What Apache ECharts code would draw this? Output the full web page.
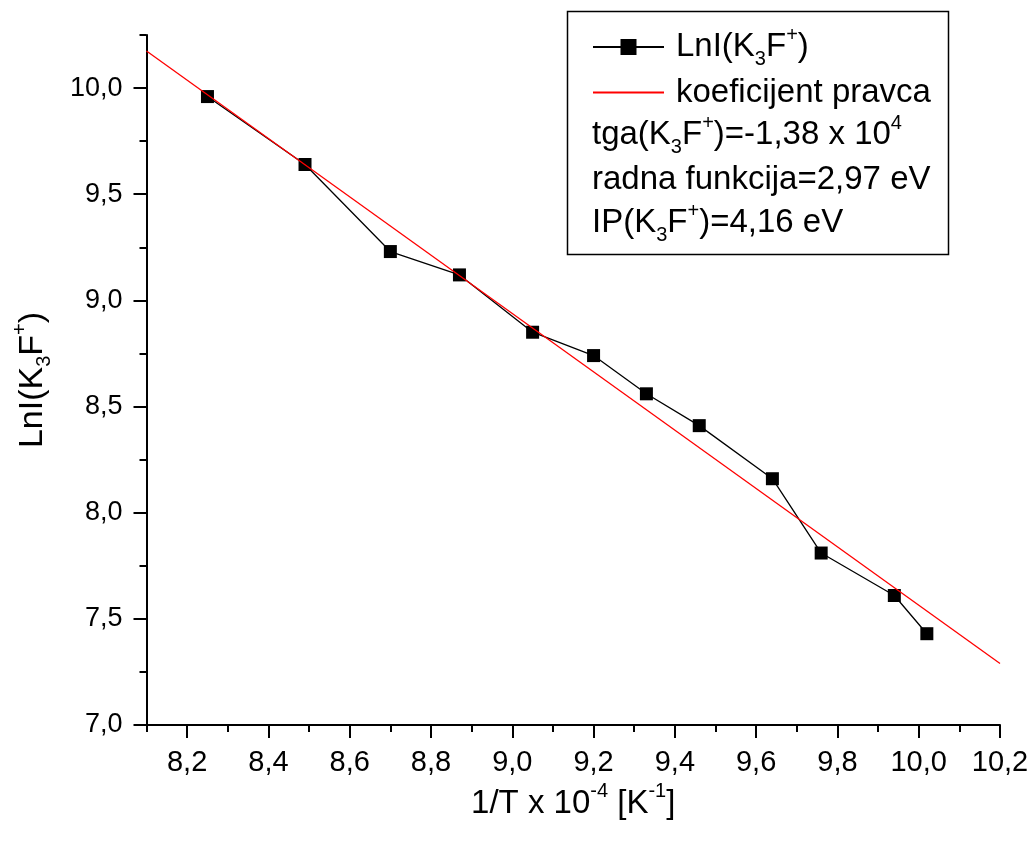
<!DOCTYPE html>
<html>
<head>
<meta charset="utf-8">
<script src="https://cdn.jsdelivr.net/npm/echarts@6/dist/echarts.min.js"></script>
<style>html,body{margin:0;padding:0;background:#fff}#c{width:1036px;height:843px}</style>
</head>
<body>
<div id="c"></div>
<script>
// ---- data ----
const invT = [8.25, 8.49, 8.70, 8.87, 9.05, 9.20, 9.33, 9.46, 9.64, 9.76, 9.94, 10.02];
const lnI = [9.96, 9.64, 9.23, 9.12, 8.85, 8.74, 8.56, 8.41, 8.16, 7.81, 7.61, 7.43];
const fitX = [8.1, 10.2];
const fitY = [10.175, 7.29];
const xMajorTicks = [8.2, 8.4, 8.6, 8.8, 9.0, 9.2, 9.4, 9.6, 9.8, 10.0, 10.2];
const xMinorTicks = [8.1, 8.3, 8.5, 8.7, 8.9, 9.1, 9.3, 9.5, 9.7, 9.9, 10.1];
const yMajorTicks = [7.0, 7.5, 8.0, 8.5, 9.0, 9.5, 10.0];
const yMinorTicks = [7.25, 7.75, 8.25, 8.75, 9.25, 9.75, 10.25];
const seriesNames = ['LnI(K3F+)', 'koeficijent pravca'];
const infoLines = ['tga(K3F+)=-1,38 x 10^4', 'radna funkcija=2,97 eV', 'IP(K3F+)=4,16 eV'];

const FONT = '"Liberation Sans", Arial, sans-serif';
function makeRich(size) {
  const small = Math.round(size * 0.6);
  const shift = Math.round(size * 0.36);
  return {
    b: {fontSize: size, fontFamily: FONT, color: '#000', lineHeight: size + 4},
    sub: {fontSize: small, fontFamily: FONT, color: '#000', lineHeight: small, padding: [2 * shift, 0, 0, 0]},
    sup: {fontSize: small, fontFamily: FONT, color: '#000', lineHeight: small, padding: [0, 0, 2 * shift, 0]}
  };
}
const richLegend = makeRich(33);
const richXName = makeRich(33);
const richYName = makeRich(34);
function fmtComma(v) { return v.toFixed(1).replace('.', ','); }
function toRich(s) {
  return '{b|' + s.replace('K3', 'K}{sub|3}{b|').replace('F+', 'F}{sup|+}{b|').replace('^4', '}{sup|4}{b|') + '}';
}
const pairs = invT.map((x, i) => [x, lnI[i]]);
const fitPairs = fitX.map((x, i) => [x, fitY[i]]);

const chart = echarts.init(document.getElementById('c'), null, {renderer: 'canvas'});
const axisLine = {show: true, lineStyle: {color: '#000', width: 2}};
chart.setOption({
  animation: false,
  backgroundColor: '#fff',
  grid: {left: 146.5, right: 36, top: 35, bottom: 118},
  xAxis: [{
    type: 'value', min: 8.1, max: 10.2, position: 'bottom',
    axisLine: axisLine,
    splitLine: {show: false},
    axisTick: {show: true, inside: false, length: 13, lineStyle: {color: '#000', width: 2}, customValues: xMajorTicks},
    axisLabel: {show: true, margin: 23, fontSize: 29, fontFamily: FONT, color: '#000', customValues: xMajorTicks, formatter: fmtComma},
    name: '{b|1/T x 10}{sup|-4}{b| [K}{sup|-1}{b|]}',
    nameLocation: 'middle', nameGap: 53,
    nameTextStyle: {rich: richXName}
  }, {
    type: 'value', min: 8.1, max: 10.2, position: 'bottom', offset: 0,
    axisLine: {show: false}, splitLine: {show: false}, axisLabel: {show: false},
    axisTick: {show: true, inside: false, length: 7, lineStyle: {color: '#000', width: 2}, customValues: xMinorTicks}
  }],
  yAxis: [{
    type: 'value', min: 7, max: 10.25, position: 'left',
    axisLine: axisLine,
    splitLine: {show: false},
    axisTick: {show: true, inside: false, length: 13, lineStyle: {color: '#000', width: 2}, customValues: yMajorTicks},
    axisLabel: {show: true, margin: 24, fontSize: 27, fontFamily: FONT, color: '#000', customValues: yMajorTicks, formatter: fmtComma},
    name: toRich(seriesNames[0]),
    nameLocation: 'middle', nameGap: 95, nameRotate: 90,
    nameTextStyle: {rich: richYName}
  }, {
    type: 'value', min: 7, max: 10.25, position: 'left', offset: 0,
    axisLine: {show: false}, splitLine: {show: false}, axisLabel: {show: false},
    axisTick: {show: true, inside: false, length: 7, lineStyle: {color: '#000', width: 2}, customValues: yMinorTicks}
  }],
  legend: {
    orient: 'vertical', left: 592, top: 25, padding: 0,
    itemWidth: 71, itemHeight: 20, itemGap: 7,
    data: [
      {name: seriesNames[0]},
      {name: seriesNames[1], itemStyle: {opacity: 0}}
    ],
    formatter: function (n) { return toRich(n); },
    textStyle: {rich: richLegend, padding: [0, 0, 0, 7]},
    selectedMode: false
  },
  graphic: [
    {type: 'rect', shape: {x: 567.5, y: 11.5, width: 381, height: 243}, style: {fill: 'none', stroke: '#000', lineWidth: 1.5}, z: 10},
    ...infoLines.map((t, i) => ({
      type: 'text', x: 592, y: [135, 180, 223][i],
      style: {text: toRich(t), rich: richLegend, verticalAlign: 'middle', fill: '#000', fontSize: 33, fontFamily: FONT},
      z: 10
    }))
  ],
  series: [{
    name: seriesNames[0], type: 'line', xAxisIndex: 0, yAxisIndex: 0,
    data: pairs,
    symbol: 'rect', symbolSize: 13,
    lineStyle: {color: '#000', width: 1.3},
    itemStyle: {color: '#000'},
    z: 3
  }, {
    name: seriesNames[1], type: 'line', xAxisIndex: 0, yAxisIndex: 0,
    data: fitPairs,
    symbol: 'none', showSymbol: false,
    lineStyle: {color: '#ff0000', width: 1.3},
    itemStyle: {color: '#ff0000'},
    z: 4
  }]
});
</script>
</body>
</html>
